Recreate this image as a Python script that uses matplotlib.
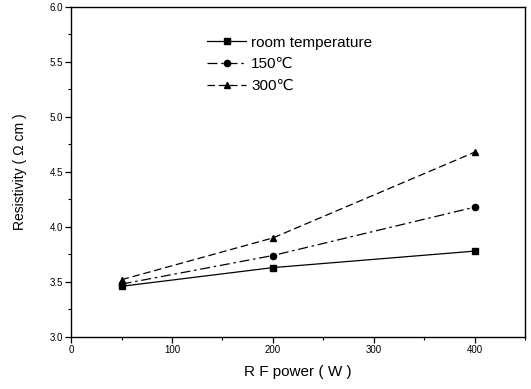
import matplotlib
matplotlib.use("Agg")
import matplotlib.pyplot as plt
from matplotlib.ticker import MultipleLocator

plt.rcParams['font.family'] = ['Liberation Sans', 'DejaVu Sans']

rf_power = [50, 200, 400]
room_temp = [3.46, 3.63, 3.78]
t150 = [3.48, 3.74, 4.18]
t300 = [3.52, 3.90, 4.68]
labels = ["room temperature", "150\u2103", "300\u2103"]
yticks = [3.0, 3.5, 4.0, 4.5, 5.0, 5.5, 6.0]
xticks = [0, 100, 200, 300, 400]

fig = plt.figure(figsize=(5.31, 3.89), dpi=100)
ax = fig.add_axes([0.134, 0.134, 0.855, 0.848])

ax.plot(rf_power, room_temp, color='black', lw=0.9, ls='-', marker='s', ms=4.5, label=labels[0])
ax.plot(rf_power, t150, color='black', lw=0.9, ls=(0, (8, 3, 2, 3)), marker='o', ms=4.5, label=labels[1])
ax.plot(rf_power, t300, color='black', lw=0.9, ls=(0, (6, 3)), marker='^', ms=4.5, label=labels[2])

ax.set_xlim(0, 450)
ax.set_ylim(3.0, 6.0)
ax.set_xticks(xticks)
ax.set_yticks(yticks)
ax.set_yticklabels([f"{v:.1f}" for v in yticks])
ax.xaxis.set_minor_locator(MultipleLocator(50))
ax.yaxis.set_minor_locator(MultipleLocator(0.25))
ax.tick_params(which='major', direction='out', length=4, width=0.9, labelsize=7, pad=2)
ax.tick_params(which='minor', direction='out', length=2.5, width=0.8)
for s in ax.spines.values():
    s.set_linewidth(1.0)

ax.set_xlabel("R F power ( W )", fontsize=11, labelpad=7)
ax.set_ylabel("Resistivity ( \u03a9 cm )", fontsize=10, labelpad=16)

leg = ax.legend(loc='upper left', bbox_to_anchor=(0.27, 0.955), frameon=False,
                fontsize=11, handlelength=2.5, handletextpad=0.35, labelspacing=0.5)

fig.savefig("out.png", dpi=100)
